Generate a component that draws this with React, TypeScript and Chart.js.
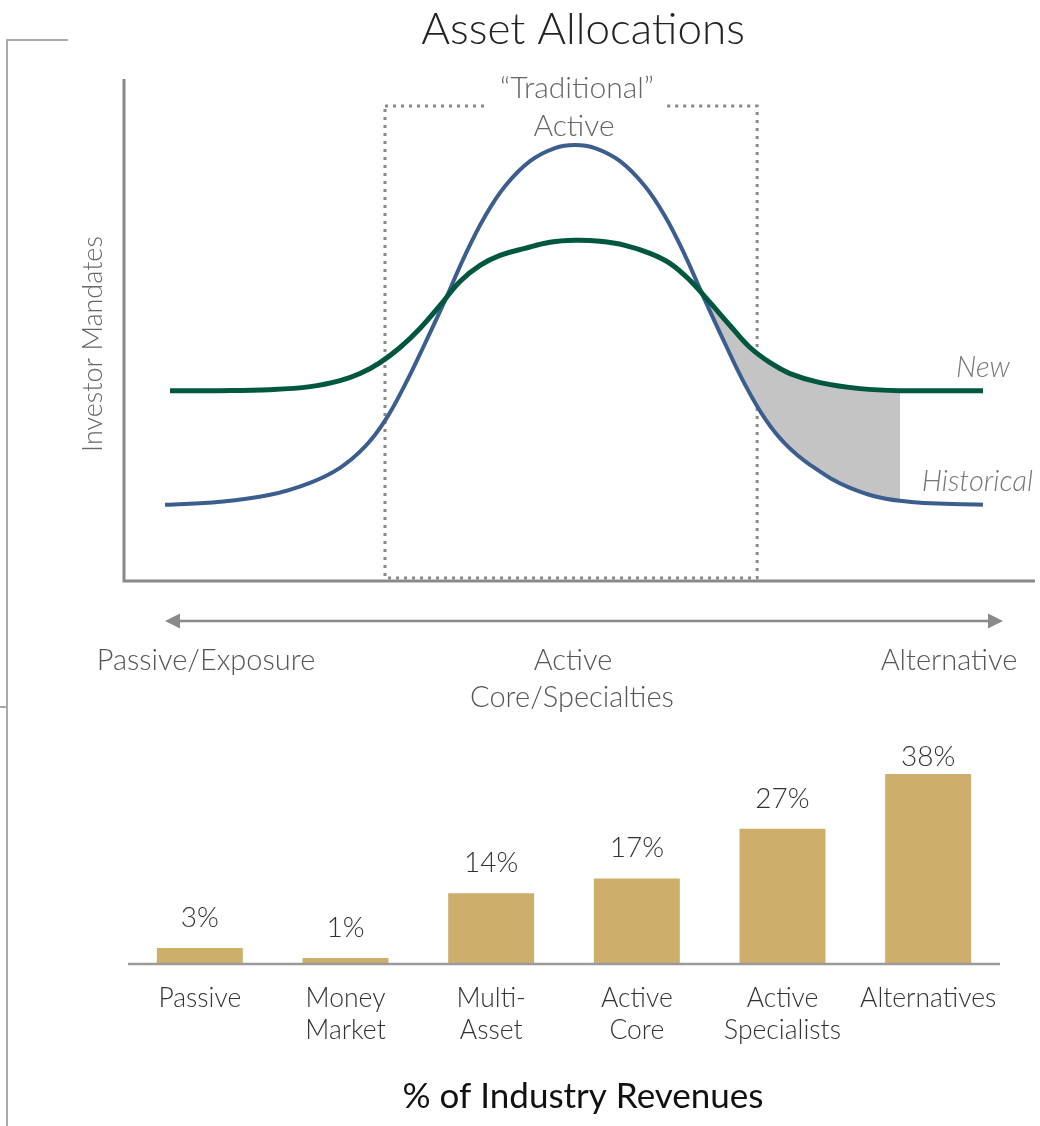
import React, { useEffect, useRef } from "react";
import { Chart, registerables } from "chart.js";

Chart.register(...registerables);

const FONT = "Lato, 'Open Sans', sans-serif";

// ---- Top chart data: position along the spectrum (0-100) vs investor mandates (0-100)
const historicalX = [4.5, 10.54, 16.03, 20.42, 23.71, 26.45, 28.65, 30.85, 33.04, 35.24, 37.43, 39.63, 41.82, 44.57, 47.31, 49.51, 51.7, 54.45, 57.19, 59.39, 61.58, 63.78, 65.97, 68.17, 70.36, 72.56, 75.3, 79.69, 85.18, 94.29];
const historicalY = [15.17, 15.77, 17.17, 19.56, 22.55, 26.75, 31.94, 39.12, 47.31, 55.89, 64.87, 72.65, 78.64, 83.63, 86.23, 86.83, 86.23, 83.63, 78.64, 72.65, 64.87, 55.89, 47.31, 39.12, 32.34, 27.35, 23.15, 18.56, 15.97, 15.17];

const newX = [5.05, 10.54, 16.03, 20.42, 23.71, 25.91, 28.1, 30.3, 32.49, 34.69, 36.88, 39.08, 41.27, 44.02, 46.76, 49.51, 52.25, 54.99, 57.74, 59.93, 62.13, 64.32, 66.52, 68.72, 70.91, 73.11, 76.4, 80.79, 85.18, 94.29];
const newY = [37.92, 37.92, 38.12, 38.72, 39.92, 41.32, 43.51, 46.51, 50.3, 54.89, 59.68, 62.87, 64.87, 66.27, 67.47, 67.86, 67.66, 66.87, 65.27, 63.27, 59.88, 55.49, 50.9, 46.51, 43.51, 41.32, 39.52, 38.32, 37.92, 37.92];

// shaded gap between New and Historical on the alternative side
const shadeX = [63.61, 64.32, 66.52, 68.72, 70.91, 73.11, 76.4, 80.79, 85.18];
const shadeY = [56.39, 55.49, 50.9, 46.51, 43.51, 41.32, 39.52, 38.32, 37.92];

// "Traditional Active" box range along the spectrum
const boxRange = [28.65, 69.5];
const boxTop = 94.6;

const spectrumLabels = ["Passive/Exposure", "Active", "Core/Specialties", "Alternative"];

// ---- Bottom chart data
const barCategories = [["Passive"], ["Money", "Market"], ["Multi-", "Asset"], ["Active", "Core"], ["Active", "Specialists"], ["Alternatives"]];
const barValues = [3, 1, 14, 17, 27, 38];

const toPoints = (xs: number[], ys: number[]) => xs.map((x, i) => ({ x, y: ys[i] }));

const topDeco = {
  id: "topDeco",
  beforeDatasetsDraw(chart: any) {
    const { ctx, chartArea: a, scales } = chart;
    const x = scales.x, y = scales.y;
    ctx.save();
    ctx.strokeStyle = "#898989";
    ctx.lineWidth = 3;
    ctx.beginPath();
    ctx.moveTo(a.left, a.top);
    ctx.lineTo(a.left, a.bottom);
    ctx.lineTo(a.right, a.bottom);
    ctx.stroke();
    const bx0 = x.getPixelForValue(boxRange[0]);
    const bx1 = x.getPixelForValue(boxRange[1]);
    const by = y.getPixelForValue(boxTop);
    const bb = a.bottom - 3;
    ctx.strokeStyle = "#8a8a8a";
    ctx.lineWidth = 3;
    ctx.setLineDash([3, 5]);
    ctx.beginPath();
    ctx.moveTo(bx0, by);
    ctx.lineTo(bx0 + 100, by);
    ctx.moveTo(bx1 - 90, by);
    ctx.lineTo(bx1, by);
    ctx.lineTo(bx1, bb);
    ctx.lineTo(bx0, bb);
    ctx.lineTo(bx0, by);
    ctx.stroke();
    ctx.restore();
  },
  afterDraw(chart: any) {
    const { ctx } = chart;
    ctx.save();
    ctx.textAlign = "center";
    ctx.textBaseline = "middle";
    ctx.fillStyle = "#222";
    ctx.font = `300 44px ${FONT}`;
    ctx.fillText("Asset Allocations", 583, 30);
    ctx.fillStyle = "#666";
    ctx.font = `300 30px ${FONT}`;
    ctx.fillText("\u201CTraditional\u201D", 577, 88);
    ctx.fillText("Active", 574, 126);
    ctx.save();
    ctx.translate(93, 344);
    ctx.rotate(-Math.PI / 2);
    ctx.font = `300 27px ${FONT}`;
    ctx.fillStyle = "#666";
    ctx.fillText("Investor Mandates", 0, 0);
    ctx.restore();
    ctx.font = `italic 300 29px ${FONT}`;
    ctx.fillStyle = "#777";
    ctx.textAlign = "right";
    ctx.fillText("New", 1010, 368);
    ctx.fillText("Historical", 1033, 482);
    const ay = 621, ax0 = 165, ax1 = 1003;
    ctx.strokeStyle = "#8a8a8a";
    ctx.fillStyle = "#8a8a8a";
    ctx.lineWidth = 2.5;
    ctx.beginPath();
    ctx.moveTo(ax0 + 10, ay);
    ctx.lineTo(ax1 - 10, ay);
    ctx.stroke();
    ctx.beginPath();
    ctx.moveTo(ax0, ay);
    ctx.lineTo(ax0 + 15, ay - 7.5);
    ctx.lineTo(ax0 + 15, ay + 7.5);
    ctx.closePath();
    ctx.fill();
    ctx.beginPath();
    ctx.moveTo(ax1, ay);
    ctx.lineTo(ax1 - 15, ay - 7.5);
    ctx.lineTo(ax1 - 15, ay + 7.5);
    ctx.closePath();
    ctx.fill();
    ctx.textAlign = "center";
    ctx.fillStyle = "#555";
    ctx.font = `300 29px ${FONT}`;
    ctx.fillText(spectrumLabels[0], 206, 661);
    ctx.fillText(spectrumLabels[1], 573, 661);
    ctx.fillText(spectrumLabels[2], 572, 698);
    ctx.fillText(spectrumLabels[3], 949, 661);
    ctx.restore();
  },
};

const bottomDeco = {
  id: "bottomDeco",
  afterDatasetsDraw(chart: any) {
    const { ctx, chartArea: a } = chart;
    const meta = chart.getDatasetMeta(0);
    ctx.save();
    ctx.strokeStyle = "#9a9a9a";
    ctx.lineWidth = 2.5;
    ctx.beginPath();
    ctx.moveTo(a.left + 1, a.bottom + 1);
    ctx.lineTo(a.right - 1, a.bottom + 1);
    ctx.stroke();
    ctx.textAlign = "center";
    ctx.textBaseline = "middle";
    meta.data.forEach((bar: any, i: number) => {
      ctx.fillStyle = "#333";
      ctx.font = `300 28px ${FONT}`;
      const ly = Math.max(bar.y - 30, a.top - 7);
      ctx.fillText(barValues[i] + "%", bar.x, ly);
      ctx.font = `300 26.5px ${FONT}`;
      barCategories[i].forEach((line, j) => {
        ctx.fillText(line, bar.x, a.bottom + 35 + j * 32);
      });
    });
    ctx.fillStyle = "#111";
    ctx.font = `400 35px ${FONT}`;
    ctx.fillText("% of Industry Revenues", 583, a.bottom + 134);
    ctx.restore();
  },
};

export default function App() {
  const topRef = useRef<HTMLCanvasElement>(null);
  const botRef = useRef<HTMLCanvasElement>(null);

  useEffect(() => {
    const top = new Chart(topRef.current as HTMLCanvasElement, {
      type: "line",
      data: {
        datasets: [
          {
            label: "New",
            data: toPoints(newX, newY),
            borderColor: "#00573f",
            borderWidth: 5,
            pointRadius: 0,
            tension: 0.4,
            fill: false,
          },
          {
            label: "Historical",
            data: toPoints(historicalX, historicalY),
            borderColor: "#3b5e8e",
            borderWidth: 4,
            pointRadius: 0,
            tension: 0.4,
            fill: false,
          },
          {
            label: "Gap",
            data: toPoints(shadeX, shadeY),
            borderWidth: 0,
            borderColor: "rgba(0,0,0,0)",
            backgroundColor: "#c4c4c4",
            pointRadius: 0,
            tension: 0.4,
            fill: 1,
          },
        ],
      } as any,
      options: {
        animation: false,
        responsive: false,
        maintainAspectRatio: false,
        layout: { padding: { left: 124, right: 5, top: 79, bottom: 139 } },
        scales: {
          x: { type: "linear", min: 0, max: 100, display: false },
          y: { min: 0, max: 100, display: false },
        },
        plugins: { legend: { display: false }, tooltip: { enabled: false } },
      } as any,
      plugins: [topDeco],
    });

    const bottom = new Chart(botRef.current as HTMLCanvasElement, {
      type: "bar",
      data: {
        labels: barCategories.map((c) => c.join(" ")),
        datasets: [
          {
            data: barValues,
            backgroundColor: "#cdae6b",
            borderWidth: 0,
            categoryPercentage: 1,
            barPercentage: 0.59,
          },
        ],
      },
      options: {
        animation: false,
        responsive: false,
        maintainAspectRatio: false,
        layout: { padding: { left: 127, right: 39, top: 44, bottom: 163 } },
        scales: {
          x: { display: false },
          y: { min: 0, max: 40, display: false },
        },
        plugins: { legend: { display: false }, tooltip: { enabled: false } },
      } as any,
      plugins: [bottomDeco],
    });

    return () => {
      top.destroy();
      bottom.destroy();
    };
  }, []);

  return (
    <div style={{ position: "fixed", left: 0, top: 0, width: 1040, height: 1126, background: "#fff", overflow: "hidden" }}>
      <div style={{ position: "absolute", left: 6, top: 39, width: 60, height: 1100, borderLeft: "2px solid #ababab", borderTop: "2px solid #ababab" }} />
      <div style={{ position: "absolute", left: 0, top: 706, width: 6, height: 2, background: "#ababab" }} />
      <canvas ref={topRef} width={1040} height={720} style={{ position: "absolute", left: 0, top: 0, width: 1040, height: 720 }} />
      <canvas ref={botRef} width={1040} height={406} style={{ position: "absolute", left: 0, top: 720, width: 1040, height: 406 }} />
    </div>
  );
}
